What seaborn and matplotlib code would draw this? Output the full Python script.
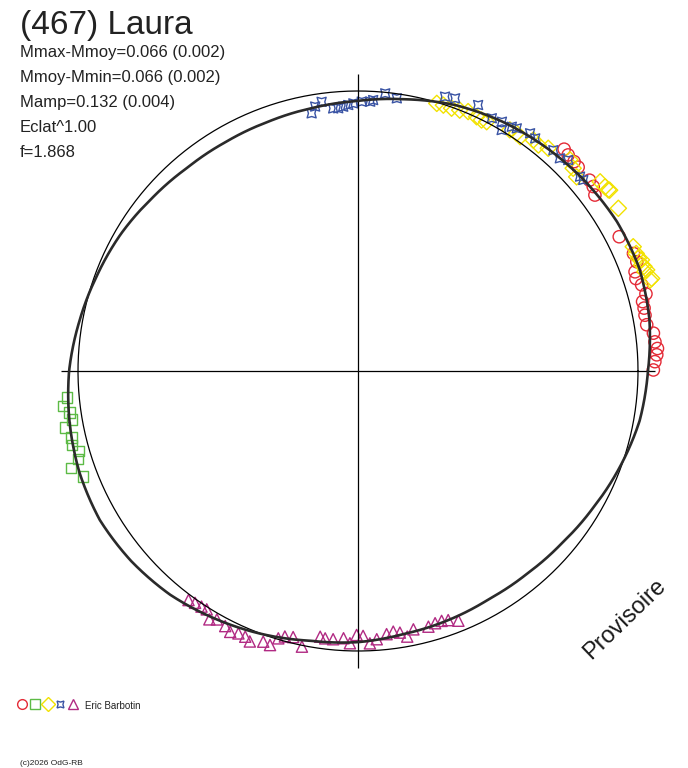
import numpy as np
import pandas as pd
import matplotlib
matplotlib.use('Agg')
import matplotlib.pyplot as plt
from matplotlib.lines import Line2D
import seaborn as sns

# phases in degrees, magnitudes relative to the mean
red_phase = [0.2, 1.8, 3.1, 4.3, 5.6, 7.3, 9.1, 11.0, 12.4, 13.7, 15.0, 16.9, 18.4, 19.7,
             21.4, 23.1, 27.2, 36.6, 38.1, 39.5, 42.8, 44.1, 45.8, 47.1]
red_dm = [-0.058, -0.064, -0.072, -0.076, -0.069, -0.067, -0.047, -0.047, -0.049, -0.049,
          -0.068, -0.062, -0.049, -0.054, -0.073, -0.073, -0.052, -0.057, -0.071, -0.075,
          -0.075, -0.078, -0.080, -0.085]

green_phase = [185.2, 186.7, 188.2, 189.6, 190.9, 193.1, 194.5, 196.0, 197.5, 198.7, 201.0]
green_dm = [-0.047, -0.065, -0.044, -0.038, -0.069, -0.053, -0.059, -0.039, -0.052, -0.086, -0.054]

yellow_phase = [17.3, 17.5, 19.1, 19.3, 20.1, 20.5, 21.4, 21.9, 22.9, 24.3, 32.0, 35.7, 35.9,
                36.7, 38.0, 41.6, 43.3, 44.9, 49.5, 51.4, 52.8, 55.3, 56.3, 57.8, 62.7, 63.8,
                65.0, 67.0, 68.7, 70.4, 72.2, 73.6]
yellow_dm = [-0.096, -0.103, -0.088, -0.096, -0.091, -0.085, -0.091, -0.083, -0.082, -0.082,
             -0.100, -0.110, -0.107, -0.104, -0.101, -0.047, -0.059, -0.072, -0.049, -0.035,
             -0.038, -0.019, -0.022, -0.019, -0.002, 0.001, -0.002, -0.007, 0.000, 0.004,
             0.003, 0.004]

blue_phase = [40.3, 41.2, 45.1, 46.5, 48.5, 52.7, 54.1, 56.8, 57.8, 59.2, 60.0, 62.1, 65.7,
              70.4, 72.4, 81.9, 84.4, 86.8, 87.4, 89.2, 91.0, 92.1, 93.2, 94.3, 95.4, 97.7,
              99.2, 100.2]
blue_dm = [-0.058, -0.057, -0.067, -0.050, -0.056, -0.047, -0.051, -0.038, -0.033, -0.002,
           -0.030, -0.023, -0.045, -0.036, -0.030, 0.018, 0.004, 0.034, 0.041, 0.042, 0.049,
           0.055, 0.061, 0.066, 0.065, 0.033, 0.048, 0.073]

magenta_phase = [233.5, 234.9, 236.4, 237.6, 239.1, 240.4, 242.5, 243.9, 245.5, 247.0, 248.2,
                 250.7, 252.2, 253.4, 254.6, 256.3, 258.5, 261.9, 263.0, 264.7, 266.9, 268.3,
                 269.7, 271.1, 272.5, 274.0, 276.2, 277.7, 279.1, 280.5, 282.1, 285.4, 287.0,
                 288.5, 289.9, 291.9]
magenta_dm = [-0.019, -0.013, -0.011, -0.009, -0.036, -0.022, -0.029, -0.040, -0.032, -0.033,
              -0.043, -0.026, -0.030, 0.004, 0.018, 0.024, -0.005, 0.046, 0.042, 0.042, 0.049,
              0.030, 0.064, 0.060, 0.029, 0.044, 0.061, 0.068, 0.060, 0.039, 0.063, 0.059,
              0.065, 0.066, 0.060, 0.043]

# fitted curve, read every 10 degrees
fit_phase = list(range(0, 360, 10))
fit_dm = [-0.038, -0.060, -0.073, -0.071, -0.060, -0.046, -0.031, -0.012, 0.016, 0.039,
          0.052, 0.060, 0.062, 0.058, 0.044, 0.024, 0.008, -0.012, -0.034, -0.049,
          -0.062, -0.068, -0.060, -0.046, -0.023, 0.000, 0.024, 0.035, 0.052, 0.060,
          0.068, 0.064, 0.052, 0.031, 0.004, -0.023]

sessions = [
    (red_phase, red_dm, 'o', 78, '#E42A36'),
    (green_phase, green_dm, 's', 55, '#5DBB46'),
    (yellow_phase, yellow_dm, 'D', 68, '#F2E200'),
    (blue_phase, blue_dm, (4, 1, 45), 85, '#3953A4'),
    (magenta_phase, magenta_dm, '^', 65, '#B12A83'),
]

expo = 1.00  # Eclat^1.00


def to_polar(phase, dm):
    theta = np.radians(np.asarray(phase, dtype=float))
    r = (10 ** (-0.4 * np.asarray(dm, dtype=float))) ** expo
    return theta, r


sns.set_theme(style='white')
plt.rcParams['font.family'] = ['Liberation Sans', 'DejaVu Sans']

W, H = 688, 768
fig = plt.figure(figsize=(W / 100, H / 100), dpi=100)
cx, cy, rpx = 358, 371, 280
rmax = 1.15
R = rpx * rmax
ax = fig.add_axes([(cx - R) / W, (H - cy - R) / H, 2 * R / W, 2 * R / H], projection='polar')
ax.set_ylim(0, rmax)
ax.set_axis_off()

# cross and reference circle
ax.vlines([0, np.pi / 2, np.pi, 3 * np.pi / 2], 0, 1.06, color='black', lw=0.9)
circ = np.linspace(0, 2 * np.pi, 400)
ax.plot(circ, np.ones_like(circ), color='black', lw=0.9)

# fitted curve, closed at phase 360 so the last segment goes forward
th, rr = to_polar(fit_phase + [360], fit_dm + fit_dm[:1])
fit = pd.DataFrame({'theta': th, 'r': rr})
sns.lineplot(data=fit, x='theta', y='r', sort=False, estimator=None, ax=ax,
             color='#2a2a2a', lw=1.9)
# let the polar transform bend each segment
ax.lines[-1].get_path()._interpolation_steps = 20

for phase, dm, mk, size, col in sessions:
    th, rr = to_polar(phase, dm)
    df = pd.DataFrame({'theta': th, 'r': rr})
    sns.scatterplot(data=df, x='theta', y='r', marker=mk, s=size, color=col,
                    facecolor='none', edgecolor=col, linewidth=1.0, ax=ax, clip_on=False)
ax.set_axis_off()

# header texts
txt = '#222222'
fig.text(20 / W, 1 - 34 / H, '(467) Laura', fontsize=24, color=txt)
lines = ['Mmax-Mmoy=0.066 (0.002)', 'Mmoy-Mmin=0.066 (0.002)', 'Mamp=0.132 (0.004)',
         'Eclat^1.00', 'f=1.868']
for i, s in enumerate(lines):
    fig.text(20 / W, 1 - (57 + 25 * i) / H, s, fontsize=12, color=txt)

fig.text(625 / W, 1 - 619 / H, 'Provisoire', fontsize=17, rotation=44,
         ha='center', va='center', color='#1a1a1a')

# legend
handles = [Line2D([], [], ls='none', marker=mk, markersize=7, markerfacecolor='none',
                  markeredgecolor=col, markeredgewidth=1.0)
           for _, _, mk, _, col in sessions]
fig.legend(handles, [''] * 5, ncol=5, loc='center left', bbox_to_anchor=(16.8 / W, 1 - 705 / H),
           frameon=False, fontsize=7.5, handlelength=1.0, handletextpad=0.0,
           columnspacing=0.23, borderpad=0, borderaxespad=0)
fig.text(85 / W, 1 - 709 / H, 'Eric Barbotin', fontsize=7, color=txt)
fig.text(20 / W, 1 - 765 / H, '(c)2026 OdG-RB', fontsize=6, color=txt)

fig.savefig('out.png', dpi=100, facecolor='white')
